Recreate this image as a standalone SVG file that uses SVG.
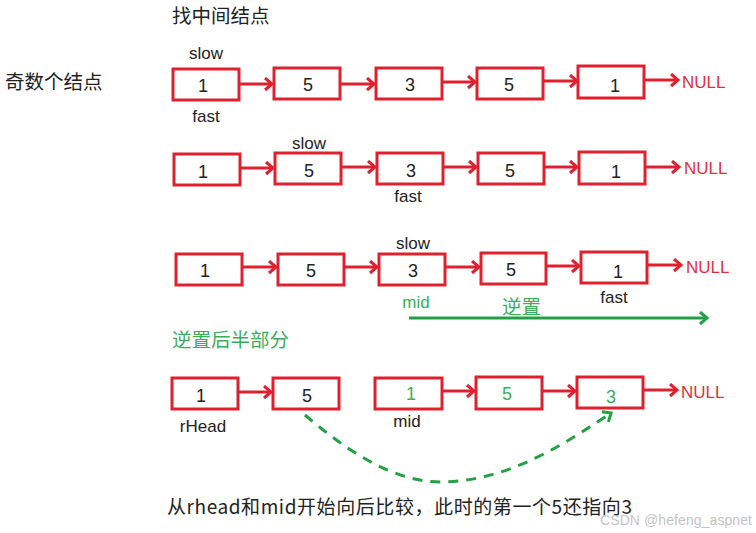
<svg xmlns="http://www.w3.org/2000/svg" width="756" height="533" viewBox="0 0 756 533">
<style>
.box{fill:#fff;stroke:#e0202e;stroke-width:3}
.lnk{stroke:#e0202e;stroke-width:3;fill:none}
.num{font-family:"Liberation Sans","Noto Sans CJK SC",sans-serif;font-size:18px;fill:#222;text-anchor:middle}
.gnum{font-family:"Liberation Sans","Noto Sans CJK SC",sans-serif;font-size:18px;fill:#3aae5a;text-anchor:middle}
.lbl{font-family:"Liberation Sans","Noto Sans CJK SC",sans-serif;font-size:17px;fill:#222}
.cn{font-family:"Noto Sans CJK SC",sans-serif;font-size:19.5px;fill:#222}
.gcn{font-family:"Noto Sans CJK SC",sans-serif;font-size:19.5px;fill:#3aae5a}
.null{font-family:"Liberation Sans",sans-serif;font-size:17px;fill:#e0303c}
</style>
<defs>
<marker id="ar" markerUnits="userSpaceOnUse" markerWidth="14" markerHeight="16" refX="10" refY="7" orient="auto">
<path d="M3,1 L10,7 L3,13" fill="none" stroke="#e0202e" stroke-width="3"/>
</marker>
<marker id="ga" markerUnits="userSpaceOnUse" markerWidth="14" markerHeight="16" refX="10" refY="7" orient="auto">
<path d="M3,1 L10,7 L3,13" fill="none" stroke="#22a045" stroke-width="3"/>
</marker>
</defs>

<text class="cn" x="172" y="23">找中间结点</text>
<text class="cn" x="5" y="89">奇数个结点</text>

<g id="row1">
<text class="lbl" x="206" y="59" text-anchor="middle">slow</text>
<text class="lbl" x="206" y="122" text-anchor="middle">fast</text>
<g id="r1n1"><rect class="box" x="173" y="69" width="66" height="31"/><text class="num" x="203" y="92">1</text></g>
<g id="r1n2"><rect class="box" x="274" y="68" width="66" height="31"/><text class="num" x="308" y="91">5</text></g>
<g id="r1n3"><rect class="box" x="376" y="68" width="66" height="31"/><text class="num" x="410" y="91">3</text></g>
<g id="r1n4"><rect class="box" x="477" y="68" width="66" height="31"/><text class="num" x="509" y="91">5</text></g>
<g id="r1n5"><rect class="box" x="578" y="66" width="66" height="32"/><text class="num" x="615" y="92">1</text></g>
<text class="null" x="682" y="88">NULL</text>
</g>

<g id="row2">
<text class="lbl" x="309" y="149" text-anchor="middle">slow</text>
<text class="lbl" x="408" y="202" text-anchor="middle">fast</text>
<g id="r2n1"><rect class="box" x="174" y="154" width="66" height="31"/><text class="num" x="203" y="178">1</text></g>
<g id="r2n2"><rect class="box" x="275" y="153" width="66" height="31"/><text class="num" x="309" y="177">5</text></g>
<g id="r2n3"><rect class="box" x="377" y="153" width="66" height="31"/><text class="num" x="411" y="177">3</text></g>
<g id="r2n4"><rect class="box" x="478" y="153" width="66" height="31"/><text class="num" x="510" y="177">5</text></g>
<g id="r2n5"><rect class="box" x="579" y="152" width="66" height="32"/><text class="num" x="616" y="178">1</text></g>
<text class="null" x="684" y="174">NULL</text>
</g>

<g id="row3">
<text class="lbl" x="413" y="249" text-anchor="middle">slow</text>
<text class="lbl" x="614" y="303" text-anchor="middle">fast</text>
<text class="lbl" x="416" y="308" text-anchor="middle" style="fill:#3aae5a">mid</text>
<text class="gcn" x="502" y="314">逆置</text>
<g id="r3n1"><rect class="box" x="176" y="254" width="66" height="31"/><text class="num" x="205" y="277">1</text></g>
<g id="r3n2"><rect class="box" x="278" y="254" width="66" height="31"/><text class="num" x="311" y="277">5</text></g>
<g id="r3n3"><rect class="box" x="379" y="254" width="66" height="31"/><text class="num" x="413" y="277">3</text></g>
<g id="r3n4"><rect class="box" x="481" y="253" width="65" height="31"/><text class="num" x="511" y="276">5</text></g>
<g id="r3n5"><rect class="box" x="581" y="252" width="66" height="31"/><text class="num" x="618" y="278">1</text></g>
<text class="null" x="686" y="273">NULL</text>
</g>

<text class="gcn" x="172" y="347">逆置后半部分</text>

<g id="row4">
<text class="lbl" x="203" y="432" text-anchor="middle">rHead</text>
<text class="lbl" x="407" y="427" text-anchor="middle">mid</text>
<g id="r4n1"><rect class="box" x="172" y="378" width="66" height="31"/><text class="num" x="201" y="402">1</text></g>
<g id="r4n2"><rect class="box" x="273" y="378" width="66" height="31"/><text class="num" x="307" y="402">5</text></g>
<g id="r4n3"><rect class="box" x="375" y="378" width="67" height="31"/><text class="gnum" x="411" y="400">1</text></g>
<g id="r4n4"><rect class="box" x="476" y="377" width="66" height="32"/><text class="gnum" x="507" y="400">5</text></g>
<g id="r4n5"><rect class="box" x="577" y="377" width="66" height="31"/><text class="gnum" x="611" y="403">3</text></g>
<text class="null" x="681" y="398">NULL</text>
</g>

<g id="connectors">
<line class="lnk" x1="240" y1="84" x2="272" y2="84" marker-end="url(#ar)"/>
<line class="lnk" x1="341" y1="84" x2="374" y2="84" marker-end="url(#ar)"/>
<line class="lnk" x1="443" y1="82" x2="475" y2="82" marker-end="url(#ar)"/>
<line class="lnk" x1="544" y1="81" x2="577" y2="81" marker-end="url(#ar)"/>
<line class="lnk" x1="645" y1="80" x2="678" y2="80" marker-end="url(#ar)"/>

<line class="lnk" x1="241" y1="168" x2="273" y2="168" marker-end="url(#ar)"/>
<line class="lnk" x1="342" y1="167" x2="375" y2="167" marker-end="url(#ar)"/>
<line class="lnk" x1="444" y1="167" x2="476" y2="167" marker-end="url(#ar)"/>
<line class="lnk" x1="545" y1="167" x2="577" y2="167" marker-end="url(#ar)"/>
<line class="lnk" x1="646" y1="167" x2="679" y2="167" marker-end="url(#ar)"/>

<line class="lnk" x1="243" y1="267" x2="276" y2="267" marker-end="url(#ar)"/>
<line class="lnk" x1="345" y1="267" x2="377" y2="267" marker-end="url(#ar)"/>
<line class="lnk" x1="446" y1="267" x2="479" y2="267" marker-end="url(#ar)"/>
<line class="lnk" x1="547" y1="266" x2="579" y2="266" marker-end="url(#ar)"/>
<line class="lnk" x1="648" y1="265" x2="681" y2="265" marker-end="url(#ar)"/>

<line class="lnk" x1="239" y1="392" x2="271" y2="392" marker-end="url(#ar)"/>
<line class="lnk" x1="443" y1="391" x2="474" y2="391" marker-end="url(#ar)"/>
<line class="lnk" x1="543" y1="391" x2="575" y2="391" marker-end="url(#ar)"/>
<line class="lnk" x1="644" y1="390" x2="677" y2="390" marker-end="url(#ar)"/>

<line x1="409" y1="318" x2="707" y2="318" stroke="#22a045" stroke-width="3" marker-end="url(#ga)"/>
<path d="M305,415 C340,445 390,482 440,482 C510,482 570,440 611,413" fill="none" stroke="#22a045" stroke-width="3" stroke-dasharray="10,8" marker-end="url(#ga)"/>
</g>

<text class="cn" x="167" y="514" textLength="465" style="font-size:19px">从rhead和mid开始向后比较，此时的第一个5还指向3</text>
<text x="600" y="525" font-family="Liberation Sans,sans-serif" font-size="14" fill="#c4c4c4" textLength="152">CSDN @hefeng_aspnet</text>
</svg>
